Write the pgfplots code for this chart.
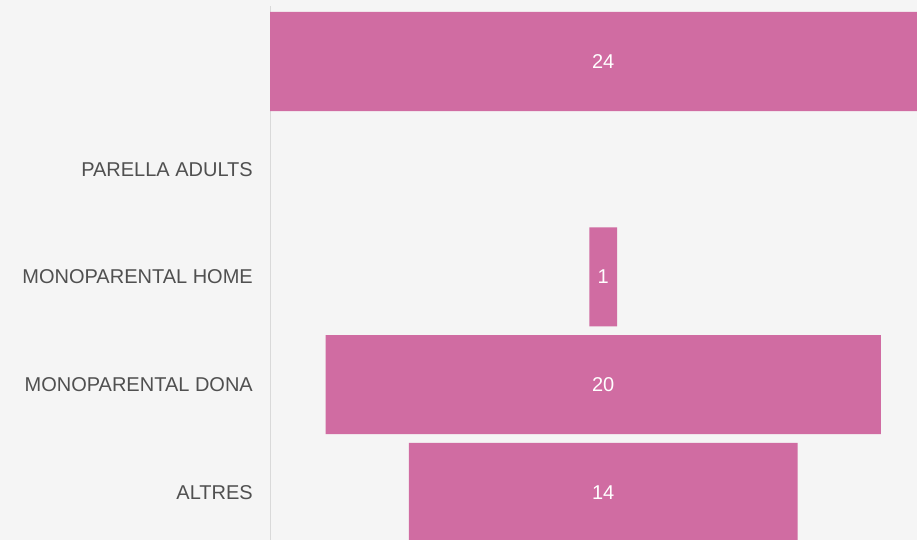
\documentclass[border=0pt]{standalone}
\usepackage{fontspec}
\setmainfont{Liberation Sans}
\usepackage{pgfplots}
\pgfplotsset{compat=1.18}

\definecolor{bgcol}{HTML}{F5F5F5}
\definecolor{barcol}{HTML}{D06CA2}
\definecolor{lblcol}{HTML}{505050}
\definecolor{axcol}{HTML}{D9D9D9}

% offset = 12 - value/2, so every bar is centred on 12
\pgfplotstableread{
row off val
0   0    24
1   12   0
2   11.5 1
3   2    20
4   5    14
}\funnel

\pgfplotsset{funnelaxis/.style={
    scale only axis,
    width=647pt, height=540pt,
    at={(270pt,0pt)}, anchor=south west,
    xmin=0, xmax=23.3,
    y dir=reverse, ymin=-0.571, ymax=4.443,
    axis line style={draw=none},
    major tick length=0pt,
    xtick=\empty,
}}

\begin{document}
\begin{tikzpicture}
\fill[bgcol, use as bounding box] (0,0) rectangle (917pt,540pt);
\begin{axis}[
    funnelaxis,
    xbar stacked,
    bar width=0.92,
    ytick={0,1,2,3,4},
    yticklabels={,PARELLA ADULTS,MONOPARENTAL HOME,MONOPARENTAL DONA,ALTRES},
    yticklabel style={font=\fontsize{20}{24}\selectfont, text=lblcol,
        anchor=east, inner sep=0pt, xshift=-17pt},
]
\addplot[draw=none, fill=none] table[x=off, y=row] {\funnel};
\addplot[draw=none, fill=barcol] table[x=val, y=row] {\funnel};
\draw[axcol, line width=1.5pt] (axis cs:0,-0.515) -- (axis cs:0,4.443);
\end{axis}
\begin{axis}[
    funnelaxis,
    hide axis,
]
\addplot[only marks, mark=none, point meta=explicit symbolic,
    nodes near coords, nodes near coords align=center,
    nodes near coords style={font=\fontsize{20}{24}\selectfont, text=white, anchor=center}]
    coordinates {(12,0) [24] (12,2) [1] (12,3) [20] (12,4) [14]};
\end{axis}
\end{tikzpicture}
\end{document}
